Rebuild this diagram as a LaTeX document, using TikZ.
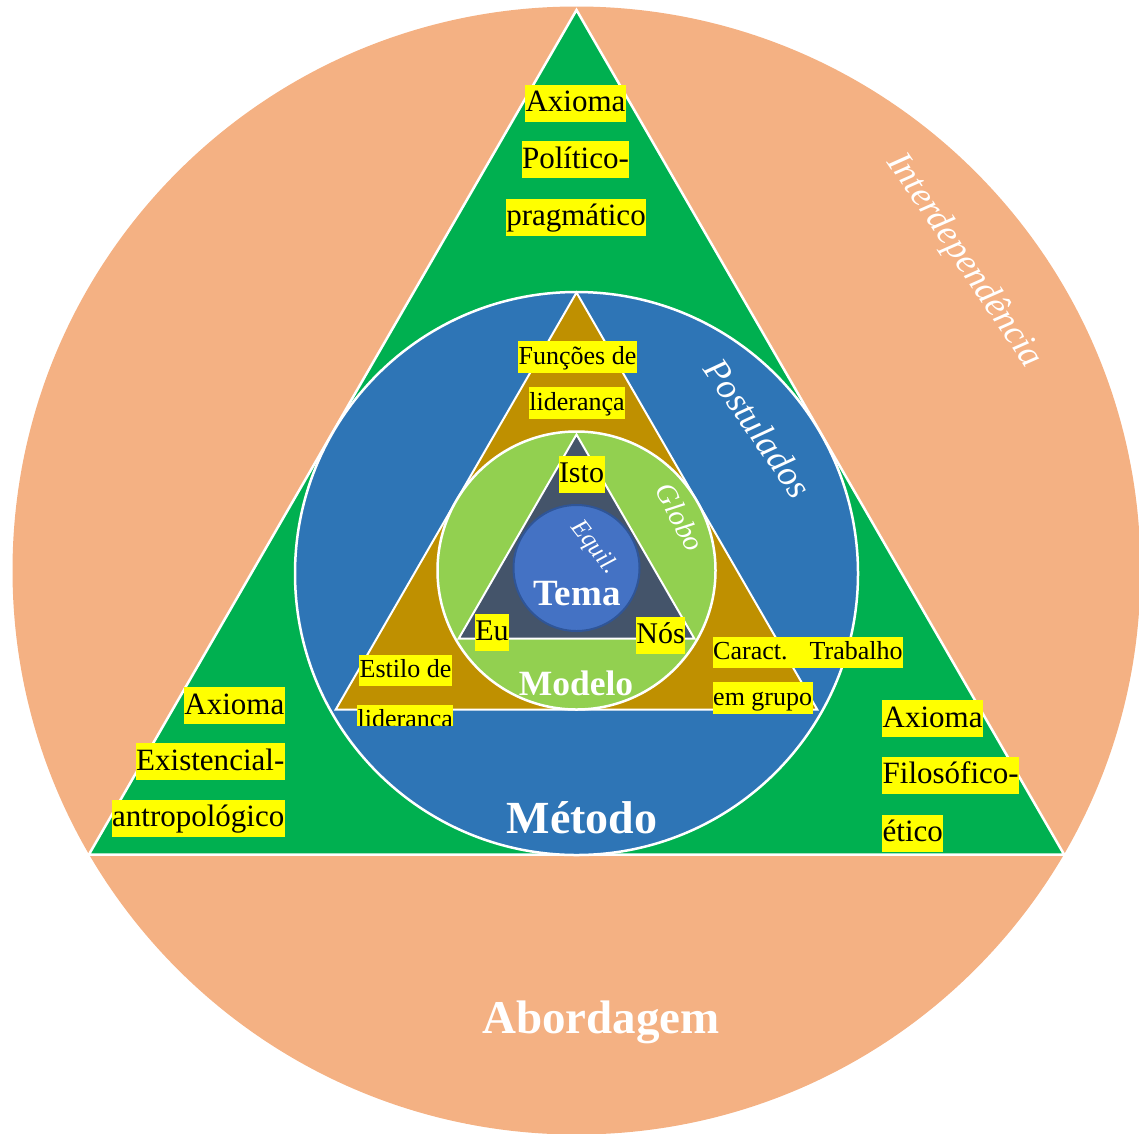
\documentclass[tikz,border=0pt]{standalone}
\usepackage{fontspec}
\setmainfont{Liberation Serif}
\usetikzlibrary{calc}

\definecolor{peach}{HTML}{F4B183}
\definecolor{axgreen}{HTML}{00B050}
\definecolor{postblue}{HTML}{2E75B6}
\definecolor{gold}{HTML}{BF9000}
\definecolor{globegreen}{HTML}{92D050}
\definecolor{slate}{HTML}{44546A}
\definecolor{temablue}{HTML}{4472C4}
\definecolor{temaedge}{HTML}{2F5597}
\definecolor{hlyellow}{HTML}{FFFF00}

\tikzset{
  hlbig/.style={fill=hlyellow, inner ysep=0pt, inner xsep=0.5pt,
    text height=27pt, text depth=10pt, font=\fontsize{31}{31}\selectfont},
  hlmid/.style={fill=hlyellow, inner ysep=0pt, inner xsep=0.5pt,
    text height=23pt, text depth=8.5pt, font=\fontsize{26}{26}\selectfont},
  hlin/.style={fill=hlyellow, inner ysep=0pt, inner xsep=0.5pt,
    text height=27pt, text depth=10pt, font=\fontsize{30}{30}\selectfont},
  boldlbl/.style={text=white, inner sep=0pt, anchor=base,
    font=\fontsize{#1}{#1}\selectfont\bfseries},
  itlbl/.style={text=white, inner sep=0pt,
    font=\fontsize{#1}{#1}\selectfont\itshape},
  rim/.style={draw=white, line width=2.5pt},
}

\begin{document}
\begin{tikzpicture}[x=1pt,y=1pt]
\useasboundingbox (0,0) rectangle (1139,-1133);
\coordinate (C) at (576.5,-570.5);
\coordinate (T) at (576.5,-573);

% concentric layers, outermost first
\fill[peach] (C) circle[radius=564pt];
\path[fill=axgreen, rim, line join=miter]
  ($(T)+(90:563pt)$) -- ($(T)+(210:563pt)$) -- ($(T)+(330:563pt)$) -- cycle;
\path[fill=postblue, rim] ($(C)+(0,-3)$) circle[radius=281.5pt];
\path[fill=gold, draw=white, line width=2pt]
  ($(C)+(90:278pt)$) -- ($(C)+(210:278pt)$) -- ($(C)+(330:278pt)$) -- cycle;
\path[fill=globegreen, rim] (C) circle[radius=139pt];
\path[fill=slate, draw=white, line width=2pt]
  ($(C)+(90:136pt)$) -- ($(C)+(210:136pt)$) -- ($(C)+(330:136pt)$) -- cycle;
\path[fill=temablue, draw=temaedge, line width=2pt] ($(C)+(0,2.5)$) circle[radius=63pt];

% axioms
\node[hlbig] (ax1a) at (575.5,-103) {Axioma};
\node[hlbig] (ax1b) at (575.5,-159.5) {Político-};
\node[hlbig] (ax1c) at (576,-217) {pragmático};

\node[hlbig, anchor=east] (ax2a) at (285,-705.5) {Axioma};
\node[hlbig, anchor=east] (ax2b) at (285,-761.5) {Existencial-};
\node[hlbig, anchor=east] (ax2c) at (285,-818) {antropológico};

\node[hlbig, anchor=west] (ax3a) at (882,-718.5) {Axioma};
\node[hlbig, anchor=west] (ax3b) at (882,-775) {Filosófico-};
\node[hlbig, anchor=west] (ax3c) at (882,-833) {ético};

% leadership labels
\node[hlmid] (fun1) at (577.5,-357) {Funções de};
\node[hlmid] (fun2) at (577,-403) {liderança};

\node[hlmid, anchor=west] (est1) at (359,-670.5) {Estilo de};
\begin{scope}
  \clip (300,-698) rectangle (500,-725);
  \node[hlmid, anchor=west] (est2) at (357,-720.5) {liderança};
\end{scope}

\node[hlmid, anchor=west] (car1) at (712.5,-652.5) {Caract.\hspace{0.85em}Trabalho};
\node[hlmid, anchor=west] (car2) at (712.5,-698) {em grupo};

% inner triangle corners
\node[hlin] (isto) at (581.5,-474) {Isto};
\node[hlin] (eu) at (492,-632) {Eu};
\node[hlin] (nos) at (660.5,-635) {Nós};

% white captions
\node[boldlbl=37] (tema) at (577,-605) {Tema};
\node[boldlbl=35.5] (modelo) at (576,-695) {Modelo};
\node[boldlbl=46] (metodo) at (582,-833) {Método};
\node[boldlbl=47] (abord) at (601,-1033) {Abordagem};

\node[itlbl=25, rotate=-52] (equil) at (594,-548) {Equil.};
\node[itlbl=29, rotate=-62] (globo) at (680,-517) {Globo};
\node[itlbl=36, rotate=-55] (postul) at (758,-428) {Postulados};
\node[itlbl=36, rotate=-56] (interd) at (964,-261) {Interdependência};
\end{tikzpicture}
\end{document}
